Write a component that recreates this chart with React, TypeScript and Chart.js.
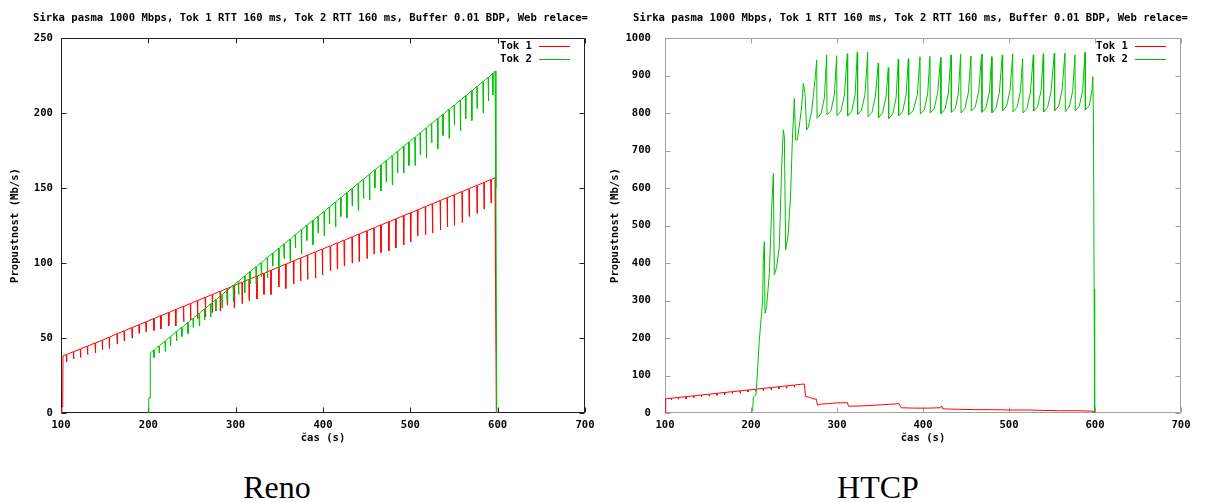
import React, { useEffect, useRef } from 'react';
import { Chart, registerables } from 'chart.js';

Chart.register(...registerables);

// ---------- text ----------
const TITLE = 'Sirka pasma 1000 Mbps, Tok 1 RTT 160 ms, Tok 2 RTT 160 ms, Buffer 0.01 BDP, Web relace=';
const X_TITLE = 'čas (s)';
const Y_TITLE = 'Propustnost (Mb/s)';
const SERIES_LABELS = ['Tok 1', 'Tok 2'];
const SERIES_COLORS = ['#ff0000', '#00c000'];
const CAPTIONS = ['Reno', 'HTCP'];

// ---------- axes ----------
const X_MIN = 100;
const X_MAX = 700;
const X_STEP = 100;
const RENO_Y_MAX = 250;
const RENO_Y_STEP = 50;
const HTCP_Y_MAX = 1000;
const HTCP_Y_STEP = 100;

// ---------- Reno, Tok 1 (time of dip, level before dip, dip bottom) ----------
const renoTok1Start: [number, number][] = [[100, 0], [101, 4], [102, 4], [102.3, 38]];
const renoTok1DipTime = [106, 114, 122, 130, 139, 147, 155, 164, 172, 181, 189, 197, 206, 214, 223, 231, 240, 248, 256, 265, 273, 282, 290, 298, 307, 315, 324, 332, 340, 349, 357, 366, 374, 382, 391, 399, 408, 416, 424, 433, 441, 450, 458, 466, 475, 483, 492, 500, 508, 517, 525, 534, 542, 550, 559, 567, 576, 584, 592];
const renoTok1Top = [39.0, 40.9, 42.7, 44.6, 46.7, 48.6, 50.5, 52.9, 54.8, 57.0, 58.9, 60.8, 63.0, 64.9, 67.0, 69.0, 71.1, 73.0, 75.0, 77.1, 79.0, 81.2, 83.1, 85.0, 87.2, 89.1, 91.3, 93.2, 95.1, 97.3, 99.2, 101.4, 103.3, 105.2, 107.4, 109.3, 111.4, 113.4, 115.3, 117.4, 119.4, 121.5, 123.4, 125.4, 127.5, 129.4, 131.6, 133.5, 135.4, 137.6, 139.5, 141.7, 143.6, 145.5, 147.7, 149.6, 151.8, 153.7, 155.6];
const renoTok1Low = [34, 36, 37, 39, 40, 42, 43, 46, 48, 50, 53, 54, 55, 56, 58, 58, 61, 62, 63, 64, 67, 68, 72, 70, 73, 75, 76, 79, 79, 84, 83, 86, 88, 89, 90, 92, 95, 96, 98, 100, 101, 103, 106, 107, 108, 110, 112, 114, 118, 119, 120, 122, 124, 125, 127, 131, 133, 136, 140];
const renoTok1End: [number, number][] = [[597, 157], [597.5, 90], [598.5, 0]];

// ---------- Reno, Tok 2 ----------
const renoTok2Start: [number, number][] = [[200.3, 0], [200.5, 10], [202, 10], [202.3, 40]];
const renoTok2DipTime = [206, 212, 219, 225, 232, 238, 245, 251, 258, 264, 271, 277, 284, 290, 297, 303, 310, 316, 323, 329, 336, 342, 349, 355, 362, 368, 375, 381, 388, 394, 401, 407, 414, 420, 427, 433, 440, 446, 453, 459, 466, 472, 479, 485, 492, 498, 505, 511, 518, 524, 531, 537, 544, 550, 557, 563, 570, 576, 583, 589, 594];
const renoTok2Top = [41.9, 44.8, 48.1, 50.9, 54.3, 57.1, 60.4, 63.3, 66.6, 69.5, 72.8, 75.6, 79.0, 81.8, 85.1, 88.0, 91.3, 94.2, 97.5, 100.3, 103.7, 106.5, 109.8, 112.7, 116.0, 118.9, 122.2, 125.0, 128.4, 131.2, 134.5, 137.4, 140.7, 143.6, 146.9, 149.7, 153.1, 155.9, 159.2, 162.1, 165.4, 168.3, 171.6, 174.4, 177.8, 180.6, 183.9, 186.8, 190.1, 193.0, 196.3, 199.1, 202.5, 205.3, 208.6, 211.5, 214.8, 217.7, 221.0, 223.8, 226.2];
const renoTok2Low = [37, 40, 41, 45, 48, 51, 53, 57, 58, 62, 64, 68, 70, 74, 74, 79, 80, 86, 86, 91, 90, 98, 96, 103, 101, 110, 106, 115, 112, 120, 118, 126, 124, 131, 130, 138, 135, 143, 142, 150, 148, 154, 152, 160, 160, 165, 165, 172, 170, 180, 176, 185, 183, 192, 188, 196, 195, 203, 200, 208, 212];
const renoTok2End: [number, number][] = [[597, 228], [598, 150], [599, 0]];

// ---------- HTCP, Tok 1 ----------
const htcpTok1Start: [number, number][] = [[100, 0], [100.8, 38]];
const htcpTok1DipTime = [107, 115, 124, 133, 142, 151, 160, 169, 178, 187, 196, 205, 214, 223, 232, 241, 250];
const htcpTok1Top = [39.5, 41.4, 43.6, 45.8, 48.0, 50.3, 52.5, 54.7, 56.9, 59.1, 61.3, 63.5, 65.7, 67.9, 70.1, 72.3, 74.5];
const htcpTok1Low = [35, 37, 38, 41, 43, 45, 47, 49, 51, 53, 56, 58, 59, 62, 64, 66, 69];
const htcpTok1End: [number, number][] = [
  [258, 76.5], [262, 77.5], [263.5, 44], [268, 42], [272, 38], [276, 37], [277.3, 21], [282, 24], [290, 25],
  [300, 27], [305, 27], [312, 28], [313.4, 18], [330, 19], [345, 21], [360, 23], [372, 25], [374.6, 14],
  [390, 13], [405, 13], [420, 14], [421.7, 19], [423, 11], [440, 10], [460, 9], [480, 9], [500, 8],
  [520, 8], [540, 7], [560, 6], [580, 6], [595, 5], [598, 5], [599, 0],
];

// ---------- HTCP, Tok 2 (time, Mb/s) ----------
const htcpTok2: [number, number][] = [
  [200, 0], [202, 8], [202.7, 43], [205.8, 48], [207.4, 106], [209.7, 195], [212, 257], [213.6, 301], [214.3, 408], [215.5, 457],
  [216.3, 266], [218.2, 284], [221.3, 372], [224, 541], [226, 639], [227.1, 368], [229.8, 390], [232.9, 443], [235.7, 657], [237.6, 755],
  [238.8, 737], [240.3, 435], [243.4, 479], [246.1, 586], [248.1, 728], [250.4, 839], [251.9, 728], [253.9, 728], [257, 781], [258.9, 817],
  [260.9, 879], [262.8, 852], [264.7, 755], [266.7, 763], [270.5, 804], [274.4, 888], [276.4, 941],
  [276.8, 786], [281.4, 798], [285.4, 841], [288, 955],
  [288.4, 795], [293, 806], [297, 850], [299.6, 953],
  [300, 793], [304.6, 805], [308.6, 848], [312, 958],
  [312.4, 792], [317, 804], [321, 847], [323.6, 962],
  [324, 796], [328.6, 808], [332.6, 851], [335.7, 962],
  [336.1, 790], [340.7, 802], [344.7, 845], [348, 933],
  [348.4, 788], [353, 800], [357, 843], [359.7, 921],
  [360.1, 785], [364.7, 797], [368.7, 840], [371.3, 944],
  [371.7, 792], [376.3, 804], [380.3, 847], [383, 945],
  [383.4, 795], [388.5, 806], [393.5, 850], [396.5, 950],
  [396.9, 797], [401.5, 809], [405.5, 852], [408.1, 951],
  [408.5, 800], [413.1, 812], [417.1, 855], [420.5, 948],
  [420.9, 798], [425.5, 810], [429.5, 853], [432.6, 955],
  [433, 802], [437.6, 813], [441, 850], [443.8, 957],
  [444.2, 800], [448.8, 812], [452.8, 855], [455.8, 952],
  [456.2, 805], [460.8, 816], [464.8, 858], [468.2, 957],
  [468.6, 802], [473.2, 813], [477.2, 856], [479.8, 950],
  [480.2, 800], [484.8, 812], [488.8, 855], [492.2, 955],
  [492.6, 806], [497.2, 818], [501.2, 860], [504.3, 958],
  [504.7, 803], [509.3, 815], [513.3, 858], [515.9, 945],
  [516.3, 800], [520.9, 812], [524.9, 855], [528.3, 955],
  [528.7, 805], [533.3, 817], [537.3, 860], [539.9, 958],
  [540.3, 803], [544.9, 815], [548.9, 858], [552.7, 960],
  [553.1, 806], [557.7, 818], [561.7, 861], [565.1, 960],
  [565.5, 804], [570.1, 816], [574.1, 859], [576.7, 955],
  [577.1, 806], [581.7, 818], [585.7, 861], [588.4, 962],
  [588.8, 808], [593.4, 820], [596.5, 862], [597.5, 897], [598.2, 780], [599, 330], [599.6, 0],
];

// ---------- helpers ----------
type P = { x: number; y: number };
const toPts = (arr: [number, number][]): P[] => arr.map(([x, y]) => ({ x, y }));

// each measured dip is drawn as a narrow spike down to its bottom value and back
function withDips(start: [number, number][], times: number[], tops: number[], lows: number[], end: [number, number][]): P[] {
  const pts = toPts(start);
  times.forEach((t, i) => {
    pts.push({ x: t, y: tops[i] }, { x: t + 0.4, y: lows[i] }, { x: t + 0.8, y: tops[i] });
  });
  return pts.concat(toPts(end));
}

const FONT_FAMILY = "'DejaVu Sans Mono', 'Liberation Mono', monospace";
const FONT_SIZE = 10.6;

interface PanelSpec {
  left: number;
  width: number;
  height: number;
  yAxisWidth: number;
  padRight: number;
  padTop: number;
  xAxisHeight: number;
  yMax: number;
  yStep: number;
  yLabelPad: number;
  frameColor: string;
  series: P[][];
}

function Panel({ spec }: { spec: PanelSpec }) {
  const ref = useRef<HTMLCanvasElement>(null);
  useEffect(() => {
    const canvas = ref.current;
    if (!canvas) return;
    const font = { family: FONT_FAMILY, size: FONT_SIZE, weight: 'bold' as const };

    const framePlugin = {
      id: 'gnuFrame',
      beforeDatasetsDraw(chart: any) {
        const { ctx, chartArea: a } = chart;
        const xs = chart.scales.x;
        const ys = chart.scales.y;
        const L = Math.round(a.left) + 0.5;
        const R = Math.round(a.right) - 0.5;
        const T = Math.round(a.top) + 0.5;
        const B = Math.round(a.bottom) - 0.5;
        ctx.save();
        ctx.strokeStyle = spec.frameColor;
        ctx.lineWidth = 1;
        ctx.beginPath();
        ctx.rect(L, T, R - L, B - T);
        xs.ticks.forEach((t: any) => {
          const p = Math.round(xs.getPixelForValue(t.value)) + 0.5;
          ctx.moveTo(p, B); ctx.lineTo(p, B - 5);
          ctx.moveTo(p, T); ctx.lineTo(p, T + 5);
        });
        ys.ticks.forEach((t: any) => {
          const p = Math.round(ys.getPixelForValue(t.value)) + 0.5;
          ctx.moveTo(L, p); ctx.lineTo(L + 5, p);
          ctx.moveTo(R, p); ctx.lineTo(R - 5, p);
        });
        ctx.stroke();
        ctx.restore();
      },
    };

    const textPlugin = {
      id: 'gnuText',
      afterDraw(chart: any) {
        const { ctx, chartArea: a } = chart;
        ctx.save();
        ctx.font = `bold ${FONT_SIZE}px ${FONT_FAMILY}`;
        ctx.fillStyle = '#000';
        ctx.textBaseline = 'middle';
        ctx.textAlign = 'left';
        ctx.fillText(TITLE, 33, 18);
        SERIES_LABELS.forEach((lab, i) => {
          const y = Math.round(a.top) + 8 + i * 13;
          ctx.textAlign = 'right';
          ctx.fillStyle = '#000';
          ctx.fillText(lab, a.right - 53, y);
          ctx.strokeStyle = SERIES_COLORS[i];
          ctx.lineWidth = 1;
          ctx.beginPath();
          ctx.moveTo(a.right - 46, y + 0.5);
          ctx.lineTo(a.right - 15, y + 0.5);
          ctx.stroke();
        });
        ctx.restore();
      },
    };

    const plain = (v: any) => String(v);

    const chart = new Chart(canvas, {
      type: 'line',
      data: {
        datasets: spec.series.map((pts, i) => ({
          label: SERIES_LABELS[i],
          data: pts,
          borderColor: SERIES_COLORS[i],
          backgroundColor: SERIES_COLORS[i],
          borderWidth: 1,
          pointRadius: 0,
          tension: 0,
          fill: false,
          order: 2 - i,
        })),
      },
      options: {
        animation: false,
        responsive: false,
        maintainAspectRatio: false,
        events: [],
        layout: { padding: { left: 0, right: spec.padRight, top: spec.padTop, bottom: 0 } },
        plugins: { legend: { display: false }, title: { display: false }, tooltip: { enabled: false } },
        scales: {
          x: {
            type: 'linear',
            min: X_MIN,
            max: X_MAX,
            grid: { display: false, drawTicks: false, tickLength: 0 },
            border: { display: false },
            ticks: { stepSize: X_STEP, font, color: '#000', padding: 6, maxRotation: 0, autoSkip: false, callback: plain },
            title: { display: true, text: X_TITLE, font, color: '#000', padding: { top: 0, bottom: 5 } },
            afterFit: (s: any) => {
              s.height = spec.xAxisHeight;
              s.paddingLeft = 0;
              s.paddingRight = 0;
            },
          },
          y: {
            type: 'linear',
            min: 0,
            max: spec.yMax,
            grid: { display: false, drawTicks: false, tickLength: 0 },
            border: { display: false },
            ticks: { stepSize: spec.yStep, font, color: '#000', padding: spec.yLabelPad, autoSkip: false, callback: plain },
            title: { display: true, text: Y_TITLE, font, color: '#000', padding: { top: 9, bottom: 0 } },
            afterFit: (s: any) => {
              s.width = spec.yAxisWidth;
              s.paddingTop = 0;
              s.paddingBottom = 0;
            },
          },
        },
      },
      plugins: [framePlugin, textPlugin],
    } as any);
    return () => chart.destroy();
  }, [spec]);

  return (
    <canvas
      ref={ref}
      width={spec.width}
      height={spec.height}
      style={{ position: 'absolute', left: spec.left, top: 0, width: spec.width, height: spec.height }}
    />
  );
}

const renoSpec: PanelSpec = {
  left: 0,
  width: 596,
  height: 450,
  yAxisWidth: 61,
  padRight: 11,
  padTop: 38,
  xAxisHeight: 37,
  yMax: RENO_Y_MAX,
  yStep: RENO_Y_STEP,
  yLabelPad: 8,
  frameColor: '#202020',
  series: [
    withDips(renoTok1Start, renoTok1DipTime, renoTok1Top, renoTok1Low, renoTok1End),
    withDips(renoTok2Start, renoTok2DipTime, renoTok2Top, renoTok2Low, renoTok2End),
  ],
};

const htcpSpec: PanelSpec = {
  left: 600,
  width: 606,
  height: 450,
  yAxisWidth: 65,
  padRight: 25,
  padTop: 38,
  xAxisHeight: 37,
  yMax: HTCP_Y_MAX,
  yStep: HTCP_Y_STEP,
  yLabelPad: 14,
  frameColor: '#a0a0a0',
  series: [
    withDips(htcpTok1Start, htcpTok1DipTime, htcpTok1Top, htcpTok1Low, htcpTok1End),
    toPts(htcpTok2),
  ],
};

const captionStyle = (left: number): React.CSSProperties => ({
  position: 'absolute',
  left,
  top: 471,
  width: 200,
  textAlign: 'center',
  fontFamily: "'Liberation Serif', 'Times New Roman', serif",
  fontSize: 32,
  lineHeight: '32px',
  color: '#000',
});

export default function App() {
  return (
    <div style={{ position: 'absolute', left: 0, top: 0, width: 1206, height: 502, background: '#fff', overflow: 'hidden' }}>
      <Panel spec={renoSpec} />
      <Panel spec={htcpSpec} />
      <div style={captionStyle(177)}>{CAPTIONS[0]}</div>
      <div style={captionStyle(778)}>{CAPTIONS[1]}</div>
    </div>
  );
}
